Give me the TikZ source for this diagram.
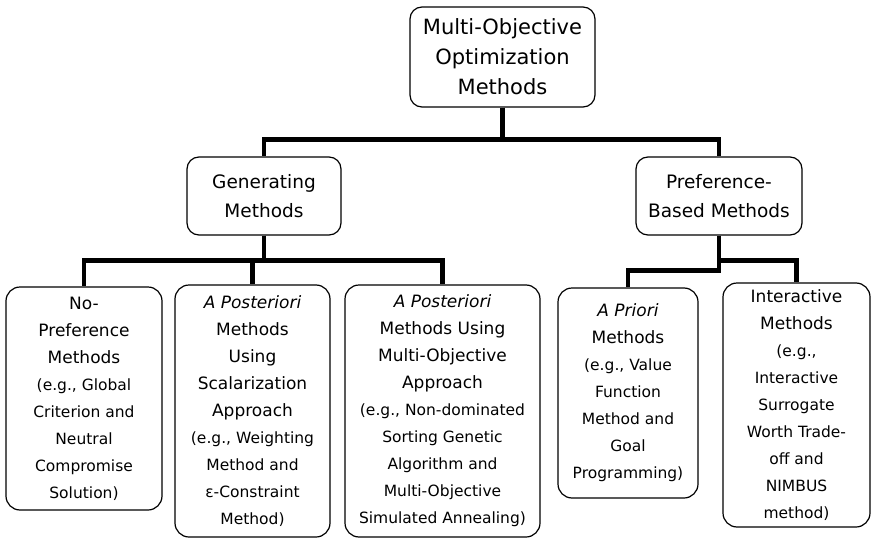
\documentclass[tikz,border=0pt]{standalone}
\usepackage{fontspec}
\setmainfont{DejaVu Sans}
\usepackage{tikz}
\newcommand{\sm}{\fontsize{15.5}{24.5}\selectfont}

\begin{document}
\begin{tikzpicture}[
  x=1pt,y=-1pt,
  box/.style={draw,line width=1.2pt,rounded corners=14pt,align=center,inner sep=2pt,font=\fontsize{17}{27}\selectfont},
  headbox/.style={box,rounded corners=12pt,minimum height=78pt,font=\fontsize{18.5}{29}\selectfont},
  link/.style={line width=4.5pt}
]
\useasboundingbox (0,0) rectangle (871,538);
\node[box,rounded corners=12pt,minimum width=185pt,minimum height=100pt,font=\fontsize{21}{30}\selectfont] (moo) at (502.5,57) {Multi-Objective\\Optimization\\Methods};
\node[headbox,minimum width=154pt] (gen) at (264,196) {Generating\\Methods};
\node[headbox,minimum width=166pt] (pref) at (719,196) {Preference-\\Based Methods};
\node[box,minimum width=156pt,minimum height=223pt] (nopref) at (84,398.5) {No-\\Preference\\Methods\\\sm (e.g., Global\\\sm Criterion and\\\sm Neutral\\\sm Compromise\\\sm Solution)};
\node[box,minimum width=155pt,minimum height=252pt] (scalar) at (252.5,411) {\textit{A Posteriori}\\Methods\\Using\\Scalarization\\Approach\\\sm (e.g., Weighting\\\sm Method and\\\sm ε-Constraint\\\sm Method)};
\node[box,minimum width=195pt,minimum height=252pt] (multi) at (442.5,411) {\textit{A Posteriori}\\Methods Using\\Multi-Objective\\Approach\\\sm (e.g., Non-dominated\\\sm Sorting Genetic\\\sm Algorithm and\\\sm Multi-Objective\\\sm Simulated Annealing)};
\node[box,minimum width=140pt,minimum height=210pt] (priori) at (628,393) {\textit{A Priori}\\Methods\\\sm (e.g., Value\\\sm Function\\\sm Method and\\\sm Goal\\\sm Programming)};
\node[box,minimum width=147pt,minimum height=244pt] (inter) at (796.5,405) {Interactive\\Methods\\\sm (e.g.,\\\sm Interactive\\\sm Surrogate\\\sm Worth Trade-\\\sm off and\\\sm NIMBUS\\\sm method)};
\draw[link] (moo.south) -- ++(0,32) -| (gen.north);
\draw[link] (moo.south) -- ++(0,32) -| (pref.north);
\draw[link] (gen.south) -- ++(0,25) -| (nopref.north);
\draw[link] (gen.south) -- ++(0,25) -| (scalar.north);
\draw[link] (gen.south) -- ++(0,25) -| (multi.north);
\draw[link] (pref.south) -- ++(0,25) -| (inter.north);
\draw[link] (pref.south) -- ++(0,35) -| (priori.north);
\end{tikzpicture}
\end{document}
